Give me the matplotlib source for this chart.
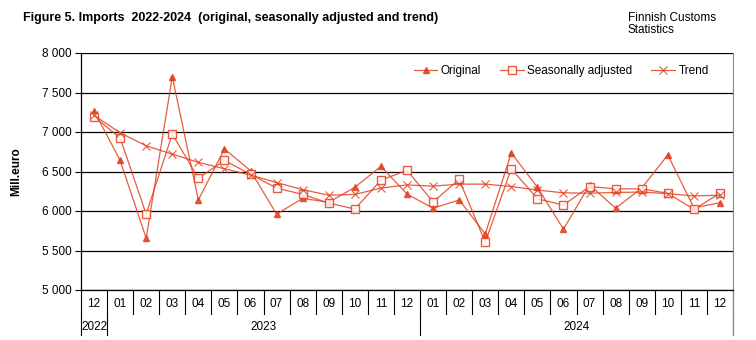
import matplotlib
matplotlib.use("Agg")
import matplotlib.pyplot as plt
import matplotlib.transforms as mtransforms
from matplotlib.ticker import FuncFormatter

plt.rcParams['font.family'] = ['Liberation Sans Narrow', 'DejaVu Sans Condensed', 'Liberation Sans', 'DejaVu Sans']

months = ["12", "01", "02", "03", "04", "05", "06", "07", "08", "09", "10", "11", "12",
          "01", "02", "03", "04", "05", "06", "07", "08", "09", "10", "11", "12"]
years = ["2022", "2023", "2024"]
year_counts = [1, 12, 12]

original = [7270, 6640, 5655, 7700, 6140, 6785, 6510, 5960, 6160, 6110, 6300, 6565, 6215,
            6035, 6140, 5710, 6735, 6300, 5770, 6330, 6035, 6290, 6710, 6040, 6105]
seas_adj = [7195, 6925, 5960, 6975, 6415, 6640, 6465, 6290, 6210, 6100, 6025, 6390, 6515,
            6115, 6400, 5605, 6535, 6155, 6075, 6310, 6280, 6280, 6225, 6020, 6225]
trend = [7210, 6990, 6825, 6720, 6615, 6535, 6455, 6360, 6270, 6200, 6210, 6290, 6330,
         6315, 6340, 6340, 6310, 6265, 6230, 6225, 6235, 6240, 6220, 6190, 6200]

red = '#E2401E'
x = list(range(len(months)))

fig = plt.figure(figsize=(7.56, 3.4), dpi=100)
ax = fig.add_axes([81/756, 1 - 290/340, 652/756, 237/340])

ax.plot(x, original, color=red, lw=0.9, alpha=0.85, marker='^', ms=5,
        mfc=red, mec=red, label='Original')
ax.plot(x, seas_adj, color=red, lw=0.9, alpha=0.85, marker='s', ms=5.5,
        mfc='white', mec=red, mew=1, label='Seasonally adjusted')
ax.plot(x, trend, color=red, lw=0.9, alpha=0.85, marker='x', ms=6,
        mec=red, mew=0.8, label='Trend')

ax.set_xlim(-0.5, len(months) - 0.5)
ax.set_ylim(5000, 8000)
ax.set_yticks(range(5000, 8001, 500))
ax.yaxis.set_major_formatter(FuncFormatter(lambda v, p: f"{int(v):,}".replace(",", " ")))
ax.tick_params(axis='y', labelsize=8.5, length=4, width=0.8, pad=3)
ax.set_xticks([])
ax.grid(axis='y', color='black', lw=0.9)
ax.set_axisbelow(True)
ax.spines['top'].set_visible(False)
ax.spines['right'].set_color('#888888')
ax.spines['left'].set_linewidth(0.9)
ax.spines['bottom'].set_linewidth(0.9)

ax.set_ylabel('Mill.euro', fontsize=8.5, fontweight='bold', labelpad=14)

# category axis: month row and year row
trans = mtransforms.blended_transform_factory(ax.transData, ax.transAxes)
for i, m in enumerate(months):
    ax.text(i, -0.06, m, transform=trans, ha='center', va='center', fontsize=8.5)
for b in range(len(months) + 1):
    ax.plot([b - 0.5, b - 0.5], [0, -0.10], transform=trans, color='black',
            lw=0.8, clip_on=False)
start = 0
for yr, n in zip(years, year_counts):
    ax.text(start - 0.5 + n / 2, -0.155, yr, transform=trans, ha='center', va='center',
            fontsize=8.5)
    start += n
for b in [-0.5, 0.5, 12.5, 24.5]:
    ax.plot([b, b], [-0.10, -0.19], transform=trans, color='black', lw=0.8, clip_on=False)
ax.plot([24.5, 24.5], [0, -0.19], transform=trans, color='#888888', lw=0.8, clip_on=False)

ax.legend(loc='center right', bbox_to_anchor=(0.97, 0.925), ncol=3, frameon=False,
          fontsize=8.5, handlelength=2.0, columnspacing=1.6, handletextpad=0.3,
          borderaxespad=0)

fig.text(23/756, 1 - 18/340, 'Figure 5. Imports  2022-2024  (original, seasonally adjusted and trend)',
         fontsize=9, fontweight='bold', va='center', ha='left')
fig.text(628/756, 1 - 24/340, 'Finnish Customs\nStatistics', fontsize=8.5,
         va='center', ha='left', linespacing=1.1)

fig.savefig('out.png', dpi=100)
